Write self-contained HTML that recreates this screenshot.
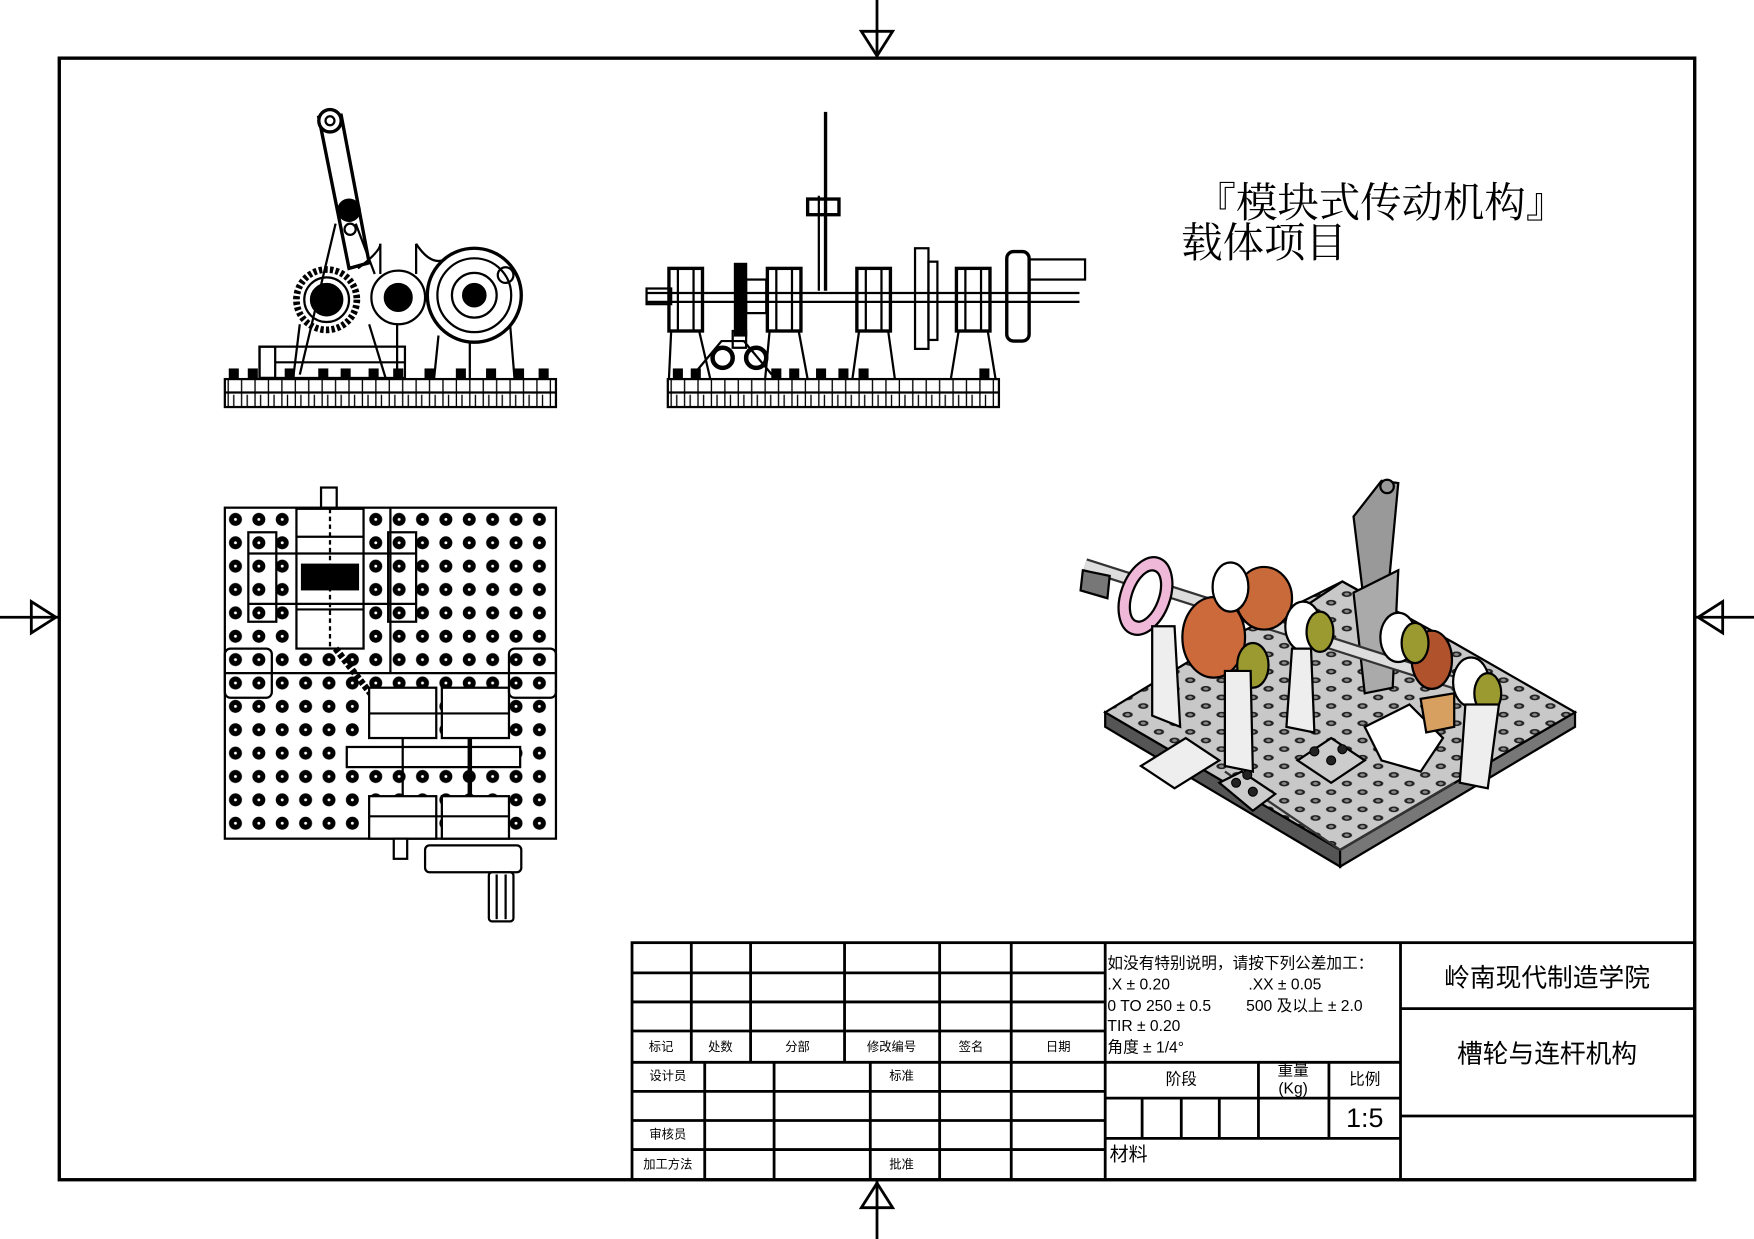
<!DOCTYPE html>
<html><head><meta charset="utf-8"><style>
html,body{margin:0;padding:0;background:#fff;width:1754px;height:1239px;overflow:hidden}
svg{display:block}
text{font-family:"Liberation Sans","Noto Sans CJK SC",sans-serif;fill:#000}
.s{font-family:"Liberation Serif","Noto Serif CJK SC",serif}
</style></head><body>
<svg width="1754" height="1239" viewBox="0 0 1568 1108" preserveAspectRatio="none" xmlns="http://www.w3.org/2000/svg">
<defs>
<pattern id="holes" x="200" y="454" width="20.9" height="20.9" patternUnits="userSpaceOnUse">
<circle cx="10.5" cy="10.5" r="5.8" fill="#000"/><circle cx="10.5" cy="10.5" r="1.3" fill="#fff"/>
</pattern>
<pattern id="iso" width="14" height="14" patternUnits="userSpaceOnUse" patternTransform="matrix(1,0.55,-1,0.55,0,0)">
<rect width="14" height="14" fill="#c8c8c8"/><circle cx="7" cy="7" r="3.3" fill="#222"/><circle cx="7" cy="7" r="1.6" fill="#888"/>
</pattern>
<pattern id="base" width="12" height="25" patternUnits="userSpaceOnUse" x="201" y="339">
<line x1="3" y1="0" x2="3" y2="25" stroke="#000" stroke-width="1.2"/><line x1="8" y1="14" x2="8" y2="25" stroke="#000" stroke-width="1.2"/>
</pattern>
</defs>
<g fill="none" stroke="#000">
<!-- frame -->
<rect x="53" y="52" width="1462" height="1003" stroke-width="3"/>
<line x1="784" y1="0" x2="784" y2="52" stroke-width="2.5"/>
<path d="M770 28 L798 28 L784 50 Z" stroke-width="2.5"/>
<line x1="784" y1="1055" x2="784" y2="1108" stroke-width="2.5"/>
<path d="M770 1080 L798 1080 L784 1058 Z" stroke-width="2.5"/>
<line x1="0" y1="552" x2="53" y2="552" stroke-width="2.5"/>
<path d="M28 538 L28 566 L50 552 Z" stroke-width="2.5"/>
<line x1="1515" y1="552" x2="1568" y2="552" stroke-width="2.5"/>
<path d="M1540 538 L1540 566 L1518 552 Z" stroke-width="2.5"/>

<!-- front view -->
<g stroke-width="2">
<rect x="201" y="339" width="296" height="25" fill="url(#base)"/>
<line x1="201" y1="351" x2="497" y2="351"/>
<path d="M285 105 L305 103 L330 235 L312 240 Z" stroke-width="3" fill="#fff"/>
<circle cx="295" cy="108" r="10" stroke-width="3" fill="#fff"/><circle cx="295" cy="108" r="4"/>
<path d="M300 200 L268 335 M318 200 L335 245"/>
<circle cx="312" cy="188" r="9" stroke-width="3" fill="#000"/><circle cx="313" cy="205" r="5"/>
<circle cx="292" cy="268" r="27" stroke-width="6" stroke-dasharray="3 2"/>
<circle cx="292" cy="268" r="20" stroke-width="2"/>
<circle cx="292" cy="268" r="14" fill="#000"/>
<circle cx="356" cy="266" r="24" stroke-width="2"/><circle cx="356" cy="266" r="12" fill="#000"/>
<circle cx="424" cy="264" r="42" stroke-width="3"/><circle cx="424" cy="264" r="33"/><circle cx="424" cy="264" r="20" stroke-width="2"/><circle cx="424" cy="264" r="10" fill="#000"/>
<circle cx="452" cy="246" r="7" stroke-width="2"/>
<path d="M320 240 Q340 225 340 218 M372 218 Q385 238 398 232"/>
<line x1="340" y1="218" x2="340" y2="245"/><line x1="372" y1="218" x2="372" y2="245"/>
<rect x="232" y="310" width="130" height="28"/><rect x="232" y="310" width="14" height="28"/>
<line x1="246" y1="324" x2="362" y2="324"/>
<line x1="268" y1="290" x2="262" y2="339"/><line x1="330" y1="290" x2="345" y2="339"/><line x1="392" y1="300" x2="388" y2="339"/><line x1="456" y1="290" x2="460" y2="339"/>
<line x1="355" y1="290" x2="355" y2="339"/><line x1="420" y1="305" x2="420" y2="339"/>
</g>
<g fill="#000"><rect x="205" y="330" width="8" height="9"/><rect x="222" y="330" width="8" height="9"/><rect x="255" y="330" width="8" height="9"/><rect x="285" y="330" width="8" height="9"/><rect x="305" y="330" width="8" height="9"/><rect x="330" y="330" width="8" height="9"/><rect x="352" y="330" width="8" height="9"/><rect x="380" y="330" width="8" height="9"/><rect x="408" y="330" width="8" height="9"/><rect x="435" y="330" width="8" height="9"/><rect x="460" y="330" width="8" height="9"/><rect x="482" y="330" width="8" height="9"/></g>

<!-- side view -->
<g stroke-width="2">
<rect x="597" y="339" width="296" height="25" fill="url(#base)"/>
<line x1="597" y1="351" x2="893" y2="351"/>
<line x1="738" y1="100" x2="738" y2="260" stroke-width="3"/>
<line x1="732" y1="175" x2="732" y2="260"/>
<rect x="722" y="178" width="28" height="14" stroke-width="3"/>
<line x1="578" y1="262" x2="965" y2="262" stroke-width="2"/>
<line x1="578" y1="270" x2="965" y2="270" stroke-width="2"/>
<rect x="578" y="258" width="22" height="14"/>
<rect x="598" y="240" width="30" height="56" stroke-width="3"/><line x1="606" y1="240" x2="606" y2="296"/><line x1="620" y1="240" x2="620" y2="296"/>
<rect x="686" y="240" width="30" height="56" stroke-width="3"/><line x1="694" y1="240" x2="694" y2="296"/><line x1="708" y1="240" x2="708" y2="296"/>
<rect x="766" y="240" width="30" height="56" stroke-width="3"/><line x1="774" y1="240" x2="774" y2="296"/><line x1="788" y1="240" x2="788" y2="296"/>
<rect x="855" y="240" width="30" height="56" stroke-width="3"/><line x1="863" y1="240" x2="863" y2="296"/><line x1="877" y1="240" x2="877" y2="296"/>
<rect x="657" y="236" width="10" height="64" fill="#000"/>
<rect x="667" y="250" width="18" height="30"/>
<rect x="818" y="222" width="12" height="90"/><rect x="830" y="234" width="8" height="70"/>
<rect x="900" y="225" width="20" height="80" rx="6" stroke-width="3"/>
<rect x="920" y="232" width="50" height="18"/>
<path d="M600 296 L598 339 M625 296 L635 339 M688 296 L684 339 M714 296 L722 339 M768 296 L762 339 M794 296 L800 339 M857 296 L850 339 M883 296 L890 339"/>
<path d="M620 335 L645 305 L665 305 L690 335"/>
<rect x="655" y="296" width="12" height="15"/>
<circle cx="646" cy="320" r="9" stroke-width="4"/><circle cx="676" cy="320" r="9" stroke-width="4"/>
</g>
<g fill="#000"><rect x="602" y="330" width="8" height="9"/><rect x="618" y="330" width="8" height="9"/><rect x="690" y="330" width="8" height="9"/><rect x="706" y="330" width="8" height="9"/><rect x="730" y="330" width="8" height="9"/><rect x="750" y="330" width="8" height="9"/><rect x="768" y="330" width="8" height="9"/><rect x="876" y="330" width="8" height="9"/></g>

<!-- top view -->
<rect x="201" y="454" width="296" height="296" fill="url(#holes)" stroke-width="2"/>
<g stroke-width="2">
<line x1="201" y1="602" x2="497" y2="602"/><line x1="349" y1="454" x2="349" y2="602"/>
<rect x="265" y="455" width="60" height="125" fill="#fff"/>
<line x1="265" y1="480" x2="325" y2="480"/><line x1="265" y1="545" x2="325" y2="545"/><line x1="295" y1="455" x2="295" y2="580" stroke-dasharray="4 3"/>
<rect x="222" y="476" width="25" height="80"/><rect x="347" y="476" width="25" height="80"/>
<line x1="222" y1="495" x2="372" y2="495"/><line x1="222" y1="540" x2="372" y2="540"/>
<rect x="270" y="505" width="50" height="22" fill="#000"/>
<path d="M300 580 L335 625" stroke-width="6" stroke-dasharray="4 2"/>
<rect x="330" y="615" width="60" height="45" fill="#fff"/><rect x="395" y="615" width="60" height="45" fill="#fff"/>
<line x1="330" y1="638" x2="455" y2="638"/>
<rect x="330" y="712" width="60" height="38" fill="#fff"/><rect x="395" y="712" width="60" height="38" fill="#fff"/>
<line x1="330" y1="730" x2="455" y2="730"/>
<rect x="310" y="668" width="155" height="18" fill="#fff"/>
<line x1="360" y1="660" x2="360" y2="712"/><line x1="420" y1="660" x2="420" y2="712" stroke-width="4"/>
<rect x="380" y="756" width="86" height="24" rx="4" fill="#fff"/>
<rect x="437" y="780" width="22" height="44" rx="3" fill="#fff"/><line x1="444" y1="782" x2="444" y2="822"/><line x1="452" y1="782" x2="452" y2="822"/>
<rect x="287" y="436" width="14" height="18" fill="#fff"/><rect x="352" y="750" width="12" height="18" fill="#fff"/>
<rect x="201" y="580" width="42" height="44" rx="5"/><rect x="455" y="580" width="42" height="44" rx="5"/>
</g>

<!-- iso view -->
<g stroke-width="2">
<path d="M988 650 L1198 775 L1198 760 L988 637 Z" fill="#555"/>
<path d="M1198 775 L1408 650 L1408 637 L1198 760 Z" fill="#777"/>
<path d="M988 637 L1198 760 L1408 637 L1300 575 L1200 520 L1090 575 Z" fill="url(#iso)"/>
<path d="M1095 690 L1198 760 L1300 700" stroke="#333"/>
<path d="M1170 540 L1200 520 L1250 548 L1220 570" fill="url(#iso)"/>
<path d="M1210 462 L1235 430 L1250 432 L1238 560 L1222 560 Z" fill="#999"/>
<circle cx="1240" cy="435" r="6" fill="#999"/>
<path d="M1210 530 L1250 510 L1245 615 L1220 620 Z" fill="#aaa"/>
<path d="M970 505 L1330 620" stroke-width="12" stroke="#333"/>
<path d="M970 505 L1330 620" stroke-width="8" stroke="#ddd"/>
<ellipse cx="1024" cy="533" rx="22" ry="36" fill="#f0b8d8" transform="rotate(20 1024 533)"/>
<ellipse cx="1024" cy="533" rx="12" ry="24" fill="#fff" transform="rotate(20 1024 533)"/>
<ellipse cx="1085" cy="570" rx="28" ry="36" fill="#cd6a3c"/>
<ellipse cx="1130" cy="535" rx="25" ry="28" fill="#c96a3a"/>
<ellipse cx="1100" cy="525" rx="16" ry="22" fill="#fff"/>
<ellipse cx="1165" cy="560" rx="16" ry="22" fill="#fff"/>
<ellipse cx="1250" cy="570" rx="16" ry="22" fill="#fff"/>
<ellipse cx="1280" cy="590" rx="18" ry="26" fill="#b0532d"/>
<ellipse cx="1315" cy="610" rx="16" ry="22" fill="#fff"/>
<ellipse cx="1120" cy="595" rx="14" ry="20" fill="#9a9a30"/>
<ellipse cx="1180" cy="565" rx="12" ry="18" fill="#9a9a30"/>
<ellipse cx="1265" cy="575" rx="12" ry="18" fill="#9a9a30"/>
<ellipse cx="1330" cy="620" rx="12" ry="18" fill="#9a9a30"/>
<path d="M1030 560 L1030 640 L1055 650 L1050 560 Z" fill="#eee"/>
<path d="M1095 600 L1095 685 L1120 690 L1118 600 Z" fill="#eee"/>
<path d="M1155 580 L1150 650 L1175 655 L1172 580 Z" fill="#eee"/>
<path d="M1310 630 L1305 700 L1330 705 L1340 630 Z" fill="#eee"/>
<path d="M1020 685 L1060 660 L1090 680 L1050 705 Z" fill="#eee"/>
<path d="M1090 700 L1110 690 L1140 710 L1120 725 Z" fill="#ccc"/>
<path d="M1160 680 L1190 660 L1220 680 L1190 700 Z" fill="#ccc"/>
<path d="M1220 650 L1260 630 L1290 660 L1270 690 L1235 680 Z" fill="#fff"/>
<path d="M1270 625 L1300 620 L1300 650 L1275 655 Z" fill="#d8a060"/>
<path d="M968 510 L992 515 L990 535 L966 528 Z" fill="#777"/>
</g>
<g fill="#222"><circle cx="1105" cy="700" r="4"/><circle cx="1120" cy="708" r="4"/><circle cx="1115" cy="693" r="4"/><circle cx="1175" cy="672" r="4"/><circle cx="1190" cy="680" r="4"/><circle cx="1200" cy="670" r="4"/></g>

<!-- title block -->
<g stroke-width="2.5">
<rect x="565" y="843" width="950" height="212"/>
<line x1="988" y1="843" x2="988" y2="1055"/><line x1="1252" y1="843" x2="1252" y2="1055"/>
<line x1="565" y1="870" x2="988" y2="870"/><line x1="565" y1="896" x2="988" y2="896"/><line x1="565" y1="922" x2="988" y2="922"/><line x1="565" y1="950" x2="1252" y2="950"/>
<line x1="565" y1="976" x2="988" y2="976"/><line x1="565" y1="1002" x2="988" y2="1002"/><line x1="565" y1="1028" x2="988" y2="1028"/>
<line x1="618" y1="843" x2="618" y2="950"/><line x1="671" y1="843" x2="671" y2="950"/><line x1="755" y1="843" x2="755" y2="950"/><line x1="840" y1="843" x2="840" y2="1055"/><line x1="904" y1="843" x2="904" y2="1055"/>
<line x1="630" y1="950" x2="630" y2="1055"/><line x1="692" y1="950" x2="692" y2="1055"/><line x1="778" y1="950" x2="778" y2="1055"/>
<line x1="988" y1="982" x2="1252" y2="982"/><line x1="988" y1="1018" x2="1252" y2="1018"/>
<line x1="1125" y1="950" x2="1125" y2="1018"/><line x1="1188" y1="950" x2="1188" y2="1018"/>
<line x1="1021" y1="982" x2="1021" y2="1018"/><line x1="1056" y1="982" x2="1056" y2="1018"/><line x1="1090" y1="982" x2="1090" y2="1018"/>
<line x1="1252" y1="902" x2="1515" y2="902"/><line x1="1252" y1="998" x2="1515" y2="998"/>
</g>
</g>

<text class="s" x="1068" y="194" font-size="37">『模块式传动机构』</text>
<text class="s" x="1056" y="230" font-size="37">载体项目</text>

<g font-size="11" fill="#000" text-anchor="middle">
<text x="591" y="940">标记</text><text x="644" y="940">处数</text><text x="713" y="940">分部</text><text x="797" y="940">修改编号</text><text x="868" y="940">签名</text><text x="946" y="940">日期</text>
<text x="597" y="966">设计员</text><text x="806" y="966">标准</text>
<text x="597" y="1018">审核员</text><text x="597" y="1045">加工方法</text><text x="806" y="1045">批准</text>
</g>
<g font-size="14">
<text x="990" y="866">如没有特别说明，请按下列公差加工：</text>
<text x="990" y="885">.X ± 0.20</text><text x="1116" y="885">.XX ± 0.05</text>
<text x="990" y="904">0 TO 250 ± 0.5</text><text x="1114" y="904">500 及以上 ± 2.0</text>
<text x="990" y="922">TIR ± 0.20</text>
<text x="990" y="941">角度 ± 1/4°</text>
<text x="1056" y="970" text-anchor="middle">阶段</text>
<text x="1156" y="962" text-anchor="middle">重量</text><text x="1156" y="978" text-anchor="middle">(Kg)</text>
<text x="1220" y="970" text-anchor="middle">比例</text>
<text x="992" y="1038" font-size="17">材料</text>
</g>
<text x="1220" y="1008" font-size="24" text-anchor="middle">1:5</text>
<text x="1383" y="882" font-size="23" text-anchor="middle">岭南现代制造学院</text>
<text x="1383" y="950" font-size="23" text-anchor="middle">槽轮与连杆机构</text>
</svg>
</body></html>
